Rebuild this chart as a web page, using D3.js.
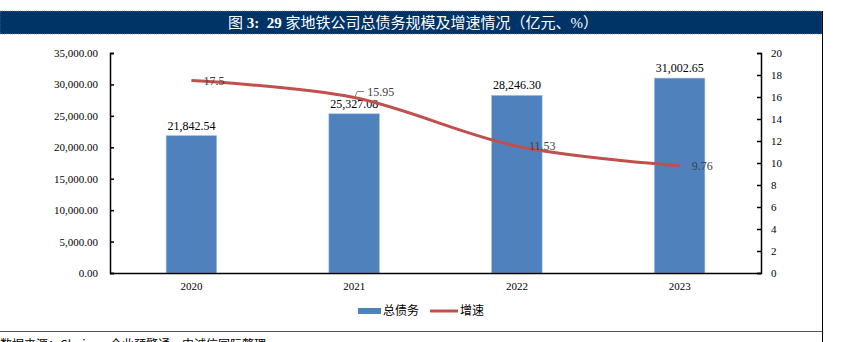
<!DOCTYPE html>
<html><head><meta charset="utf-8">
<script src="https://cdn.jsdelivr.net/npm/d3@7"></script>
<style>
body{margin:0;background:#fff;}
svg{display:block;}
</style></head>
<body>
<svg id="c" width="846" height="342"></svg>
<script>
const categories = ["2020","2021","2022","2023"];
const debt = [21842.54, 25327.08, 28246.30, 31002.65];
const growth = [17.5, 15.95, 11.53, 9.76];
const leftTicks = [0,5000,10000,15000,20000,25000,30000,35000];
const rightTicks = [0,2,4,6,8,10,12,14,16,18,20];
const titleParts = [["图 ",false],["3:  29 ",true],["家地铁公司总债务规模及增速情况（亿元、%）",false]];
const legendNames = ["总债务","增速"];
const source = "数据来源：Choice、企业预警通、中诚信国际整理";

const svg = d3.select("#c");
const serif = "'Liberation Serif','Times New Roman',serif";
const cjk = "'Noto Sans CJK SC','Liberation Serif',serif";

// frame
svg.append("rect").attr("x",0).attr("y",11).attr("width",822).attr("height",23)
  .attr("fill","#003366").attr("stroke","#8a9bb0").attr("stroke-width",0.6).attr("stroke-dasharray","1,1");
const tt = svg.append("text").attr("x",228).attr("y",28)
  .attr("fill","#fff").attr("font-family","'Liberation Serif','Noto Sans CJK SC',serif")
  .attr("font-size",15).attr("xml:space","preserve")
  .attr("textLength",370).attr("lengthAdjust","spacingAndGlyphs");
titleParts.forEach(p=>tt.append("tspan").attr("font-weight",p[1]?"bold":"normal").text(p[0]));
svg.append("line").attr("x1",822.5).attr("x2",822.5).attr("y1",11).attr("y2",342).attr("stroke","#000").attr("stroke-width",1);
svg.append("line").attr("x1",0).attr("x2",822).attr("y1",331.5).attr("y2",331.5).attr("stroke","#555").attr("stroke-width",1);
svg.append("text").attr("x",0).attr("y",349).attr("font-family",cjk).attr("font-size",12).attr("fill","#000").text(source);

const x0 = 110, x1 = 761, yTop = 53, yBot = 273;
const x = d3.scaleBand().domain(categories).range([x0,x1]).paddingInner(0).paddingOuter(0);
const yL = d3.scaleLinear().domain([0,35000]).range([yBot,yTop]);
const yR = d3.scaleLinear().domain([0,20]).range([yBot,yTop]);
const bw = x.bandwidth()*0.31;
const cx = d => x(d)+x.bandwidth()/2;

// bars
svg.append("g").selectAll("rect").data(debt).join("rect")
  .attr("x",(d,i)=>cx(categories[i])-bw/2).attr("width",bw)
  .attr("y",d=>yL(d)).attr("height",d=>yBot-yL(d))
  .attr("fill","#4F81BD").attr("stroke","#9db7dc").attr("stroke-width",0.6);
svg.append("g").selectAll("text").data(debt).join("text")
  .attr("x",(d,i)=>cx(categories[i])).attr("y",d=>yL(d)-6)
  .attr("text-anchor","middle").attr("font-family",serif).attr("font-size",12).attr("fill","#000")
  .text(d=>d3.format(",.2f")(d));

// axes
const axL = svg.append("g").attr("transform",`translate(${x0},0)`)
  .call(d3.axisLeft(yL).tickValues(leftTicks).tickSize(-4).tickPadding(12).tickFormat(d3.format(",.2f")));
const axR = svg.append("g").attr("transform",`translate(${x1},0)`)
  .call(d3.axisRight(yR).tickValues(rightTicks).tickSize(-4).tickPadding(10).tickFormat(d3.format("d")));
const axB = svg.append("g").attr("transform",`translate(0,${yBot})`)
  .call(d3.axisBottom(x).tickSize(0).tickPadding(9));
[axL,axR,axB].forEach(a=>{
  a.selectAll("path").attr("stroke","#000").attr("stroke-width",1.5);
  a.selectAll("line").attr("stroke","#000").attr("stroke-width",1.5);
  a.selectAll("text").attr("font-family",serif).attr("font-size",11).attr("fill","#000");
});
axB.select(".domain").attr("d",`M${x0},0.5H${x1}`);

// line
const line = d3.line().x((d,i)=>cx(categories[i])).y(d=>yR(d)).curve(d3.curveCatmullRom.alpha(0));
svg.append("path").datum(growth).attr("d",line).attr("fill","none")
  .attr("stroke","#C0504D").attr("stroke-width",3);

// line labels
const dy = [0,-6,0,0];
svg.append("g").selectAll("text").data(growth).join("text")
  .attr("x",(d,i)=>cx(categories[i])+(i===1?13:12)).attr("y",(d,i)=>yR(d)+dy[i])
  .attr("dy","0.35em").attr("font-family",serif).attr("font-size",12).attr("fill","#404040")
  .text(d=>String(d));
// leader for 2021 label
const lx = cx(categories[1]), ly = yR(growth[1]);
svg.append("path").attr("d",`M${lx+1},${ly-1}L${lx+3},${ly-6}H${lx+10}`)
  .attr("fill","none").attr("stroke","#808080").attr("stroke-width",1);

// legend
const lg = svg.append("g").attr("transform","translate(0,311)");
lg.append("rect").attr("x",358).attr("y",-3).attr("width",23).attr("height",6).attr("fill","#4F81BD");
lg.append("text").attr("x",383).attr("y",0).attr("dy","0.35em").attr("font-family",cjk).attr("font-size",12).text(legendNames[0]);
lg.append("line").attr("x1",430).attr("x2",458).attr("y1",0).attr("y2",0).attr("stroke","#C0504D").attr("stroke-width",3);
lg.append("text").attr("x",460).attr("y",0).attr("dy","0.35em").attr("font-family",cjk).attr("font-size",12).text(legendNames[1]);
</script>
</body></html>
